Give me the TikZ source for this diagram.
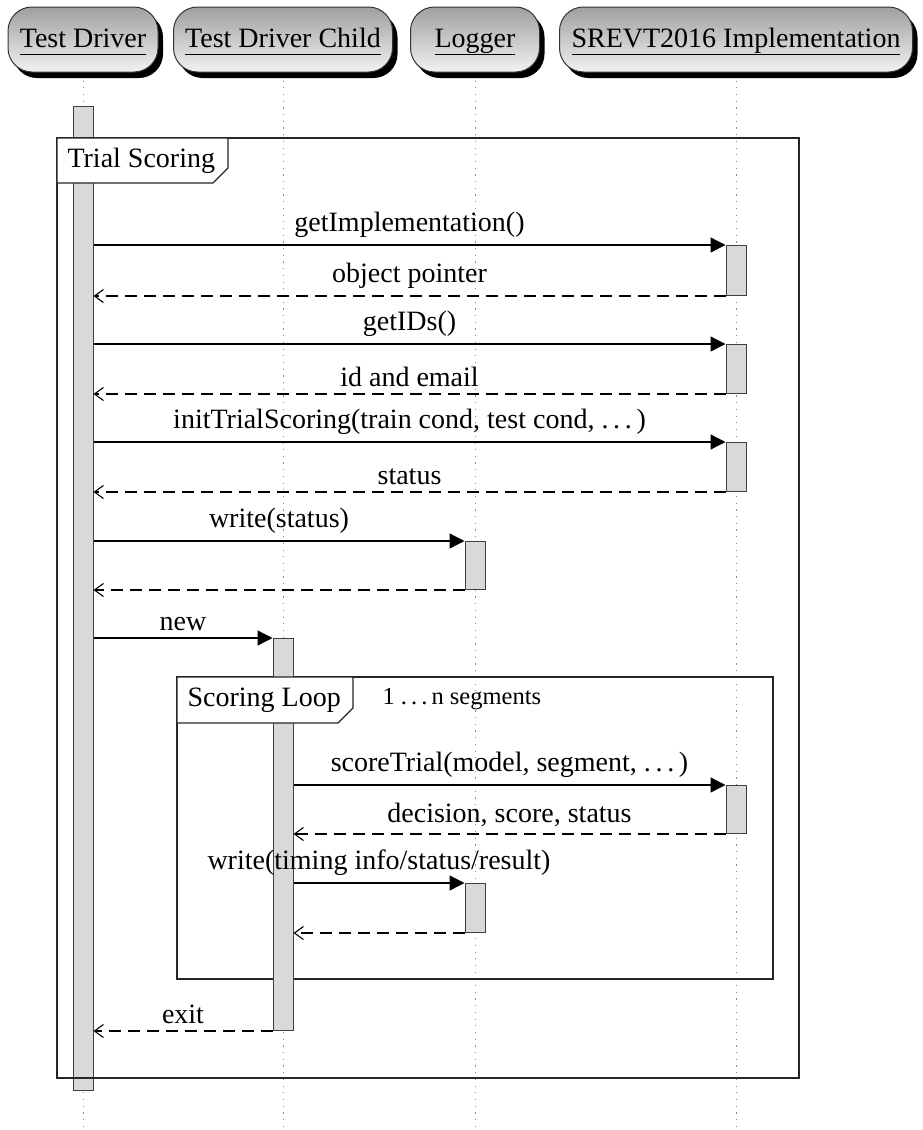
\documentclass[tikz,border=0pt]{standalone}
\usepackage{fontspec}
\setmainfont{Liberation Serif}
\usepackage{tikz}
\usetikzlibrary{arrows.meta,shadows}

\begin{document}
\begin{tikzpicture}[x=1pt, y=-1pt, font=\fontsize{28}{33}\selectfont,
  actor/.style={draw=black!80, line width=1pt, rounded corners=24pt,
    top color=gray!75, bottom color=gray!10, minimum height=65pt, inner sep=0pt,
    text height=23pt, text depth=8pt,
    drop shadow={shadow xshift=5pt, shadow yshift=-6pt, fill=black, opacity=1}},
  lifeline/.style={gray!90, line width=1pt, dash pattern=on 1.2pt off 5.5pt},
  actbar/.style={draw=black!75, line width=1pt, fill=gray!30, minimum width=20pt,
    inner sep=0pt, anchor=north},
  callmsg/.style={line width=1.3pt, -{Triangle[length=15pt, width=15pt]}},
  retmsg/.style={line width=1.1pt, dash pattern=on 12pt off 7pt,
    -{Straight Barb[length=9pt, width=13pt]}},
  sdframe/.style={line width=1.3pt, draw=black!85},
  sdtag/.style={sdframe, fill=white},
  msglabel/.style={above=7pt, inner sep=0pt}
]
\useasboundingbox (0,0) rectangle (923,1130);
\coordinate (bottom) at (0,1130);

%--- Header: objects ---
\foreach \nm/\x/\w/\txt in {hTD/83/150/Test Driver, hTDC/283/219/Test Driver Child,
    hLog/475/129/Logger, hImpl/736/353/SREVT2016 Implementation} {
  \node[actor, minimum width=\w*1pt] (\nm) at (\x,39.5) {\underline{\txt\vphantom{Tg}}};
}

% Lifelines
\foreach \nm in {hTD, hTDC, hLog, hImpl} {
  \draw[lifeline] ([yshift=-8pt]\nm.south) -- (\nm |- bottom);
}

% Test Driver activation
\node[actbar, minimum height=984pt] (tdbar) at (83,106) {};

%--- Frames ---
\draw[sdframe] (57,138) rectangle (799,1078);
\draw[sdframe] (177,677) rectangle (773,979);

% Activations on the other lifelines
\node[actbar, minimum height=392pt] (childbar) at (283,638) {};
\foreach \nm/\x/\y/\h in {implA/736/245/50, implB/736/344/49, implC/736/442/49,
    logA/475/541/48, implD/736/785/48, logB/475/883/49} {
  \node[actbar, minimum height=\h*1pt] (\nm) at (\x,\y) {};
}

% Frame tags
\draw[sdtag] (57,138) -- (228,138) -- (228,168) -- (213,183) -- (57,183) -- cycle;
\node[anchor=west] (trialtxt) at (64,161) {Trial Scoring};
\draw[sdtag] (177,677) -- (353,677) -- (353,708) -- (338,723) -- (177,723) -- cycle;
\node[anchor=west] (looptxt) at (184,700) {Scoring Loop};
\node[anchor=west, font=\fontsize{24.5}{29}\selectfont] (loopcond) at (379,699)
  {1 .\,.\,.\,n segments};

%--- Messages ---
\draw[callmsg] (tdbar.east |- implA.north) -- node[msglabel] {getImplementation()} (implA.north west);
\draw[retmsg] (implA.south west) -- node[msglabel] {object pointer} (tdbar.east |- implA.south);
\draw[callmsg] (tdbar.east |- implB.north) -- node[msglabel] {getIDs()} (implB.north west);
\draw[retmsg] (implB.south west) -- node[msglabel] {id and email} (tdbar.east |- implB.south);
\draw[callmsg] (tdbar.east |- implC.north) -- node[msglabel]
  {initTrialScoring(train cond, test cond, .\,.\,.\,)} (implC.north west);
\draw[retmsg] (implC.south west) -- node[msglabel] {status} (tdbar.east |- implC.south);
\draw[callmsg] (tdbar.east |- logA.north) -- node[msglabel] {write(status)} (logA.north west);
\draw[retmsg] (logA.south west) -- (tdbar.east |- logA.south);
\draw[callmsg] (tdbar.east |- childbar.north) -- node[msglabel] {new} (childbar.north west);

% inside the loop
\draw[callmsg] (childbar.east |- implD.north) -- node[msglabel]
  {scoreTrial(model, segment, .\,.\,.\,)} (implD.north west);
\draw[retmsg] (implD.south west) -- node[msglabel] {decision, score, status} (childbar.east |- implD.south);
\draw[callmsg] (childbar.east |- logB.north) -- node[msglabel]
  {write(timing info/status/result)} (logB.north west);
\draw[retmsg] (logB.south west) -- (childbar.east |- logB.south);

\draw[retmsg] (childbar.south west) -- node[msglabel] {exit} (tdbar.east |- childbar.south);
\end{tikzpicture}
\end{document}
